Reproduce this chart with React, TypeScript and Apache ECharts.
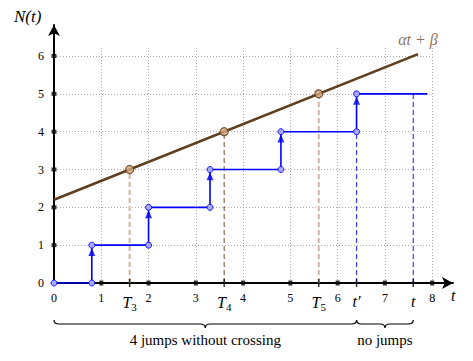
import React, { useEffect, useRef } from "react";
import * as echarts from "echarts";

const xTicks = [0, 1, 2, 3, 4, 5, 6, 7, 8];
const yTicks = [0, 1, 2, 3, 4, 5, 6];
const gridXMax = 8;
const gridYMax = 6.25;
const jumpTimes = [0.8, 2.0, 3.3, 4.8, 6.4];
const stepEnd = 7.9;
const alpha = 0.5;
const beta = 2.2;
const lineEnd = 7.7;
const crossingTimes = [1.6, 3.6, 5.6];
const crossingLevels = [3, 4, 5];
const crossingNames = ["3", "4", "5"];
const tPrime = 6.4;
const tNow = 7.6;
const braceSpans = [
  [0, tPrime],
  [tPrime, tNow],
];
const braceLabels = ["4 jumps without crossing", "no jumps"];

const SERIF = "Liberation Serif, DejaVu Serif, serif";

export default function App() {
  const ref = useRef<HTMLDivElement>(null);
  useEffect(() => {
    if (!ref.current) return;
    const chart = echarts.init(ref.current, null, { renderer: "svg" });

    const stepPts: any[] = [[0, 0]];
    let level = 0;
    jumpTimes.forEach((jt) => {
      stepPts.push([jt, level]);
      level += 1;
      stepPts.push([jt, level]);
    });
    stepPts.push({ value: [stepEnd, level], symbol: "none" });

    const arrowPts = jumpTimes.map((jt, i) => [jt, i + 0.82]);

    const gridLines: any[] = [];
    xTicks.filter((v) => v > 0).forEach((v) => gridLines.push({ coords: [[v, 0], [v, gridYMax]] }));
    yTicks.filter((v) => v > 0).forEach((v) => gridLines.push({ coords: [[0, v], [gridXMax, v]] }));

    const dashed = (x: number, top: number, color: string, width: number) => ({
      type: "line",
      data: [[x, 0], [x, top]],
      symbol: "none",
      lineStyle: { color, width, type: [5, 3] },
      z: 3,
    });

    const tLabelMap: Record<string, string> = {};
    crossingTimes.forEach((t, i) => (tLabelMap[t.toFixed(2)] = `{i|T}{s|${crossingNames[i]}}`));
    tLabelMap[tPrime.toFixed(2)] = "{i|t′}";
    tLabelMap[tNow.toFixed(2)] = "{i|t}";
    const tLabelValues = [...crossingTimes, tPrime, tNow];

    const xMax = 8.44;
    const yMax = 6.82;

    chart.setOption({
      animation: false,
      textStyle: { fontFamily: SERIF },
      grid: { left: 54, right: 473 - 453, top: 25, bottom: 361 - 283, containLabel: false },
      xAxis: [
        {
          type: "value",
          min: 0,
          max: xMax,
          axisLine: {
            show: true,
            lineStyle: { color: "#000", width: 2 },
            symbol: ["none", "arrow"],
            symbolSize: [9, 11],
          },
          axisTick: { show: false },
          splitLine: { show: false },
          axisLabel: {
            customValues: xTicks,
            color: "#000",
            fontFamily: SERIF,
            fontSize: 12,
            margin: 9,
          },
          name: "t",
          nameLocation: "end",
          nameGap: -2,
          nameTextStyle: {
            fontFamily: SERIF,
            fontStyle: "italic",
            fontSize: 16,
            color: "#000",
            align: "left",
            verticalAlign: "top",
            padding: [4, 0, 0, 0],
          },
        },
        {
          type: "value",
          min: 0,
          max: xMax,
          position: "bottom",
          axisLine: { show: false },
          axisTick: { show: false },
          splitLine: { show: false },
          axisLabel: {
            customValues: tLabelValues,
            margin: 10,
            formatter: (v: number) => tLabelMap[v.toFixed(2)] || "",
            rich: {
              i: { fontFamily: SERIF, fontStyle: "italic", fontSize: 16, color: "#000" },
              s: { fontFamily: SERIF, fontSize: 11, color: "#000", padding: [8, 0, 0, 0] },
            },
          },
        },
      ],
      yAxis: {
        type: "value",
        min: 0,
        max: yMax,
        axisLine: {
          show: true,
          lineStyle: { color: "#000", width: 2 },
          symbol: ["none", "arrow"],
          symbolSize: [9, 11],
        },
        axisTick: { show: false },
        splitLine: { show: false },
        axisLabel: {
          customValues: yTicks,
          color: "#000",
          fontFamily: SERIF,
          fontSize: 12,
          margin: 10,
        },
      },
      graphic: [
        {
          type: "text",
          left: 14,
          top: 8,
          style: {
            text: "N(t)",
            fontFamily: SERIF,
            fontStyle: "italic",
            fontSize: 17,
            fill: "#000",
          },
        },
      ],
      series: [
        {
          type: "lines",
          coordinateSystem: "cartesian2d",
          data: gridLines,
          lineStyle: { color: "#aaaaaa", width: 1, type: [1, 2], opacity: 1 },
          z: 1,
          silent: true,
        },
        dashed(crossingTimes[0], crossingLevels[0], "#cbb9a5", 2),
        dashed(crossingTimes[1], crossingLevels[1], "#8a6a4a", 1.2),
        dashed(crossingTimes[2], crossingLevels[2], "#cbb9a5", 2),
        dashed(tPrime, 4, "#3a3aff", 1.2),
        dashed(tNow, 5, "#3a3aff", 1.2),
        {
          type: "line",
          data: [[0, beta], [lineEnd, beta + alpha * lineEnd]],
          symbol: "none",
          lineStyle: { color: "#5f3e1e", width: 2.6 },
          z: 4,
        },
        {
          type: "scatter",
          data: [[lineEnd, beta + alpha * lineEnd]],
          symbolSize: 0.1,
          itemStyle: { color: "rgba(0,0,0,0)" },
          label: {
            show: true,
            position: "top",
            distance: 7,
            formatter: "αt + β",
            fontFamily: SERIF,
            fontStyle: "italic",
            fontSize: 16,
            color: "#6b4a2b",
          },
          z: 4,
        },
        {
          type: "line",
          data: stepPts,
          symbol: "circle",
          symbolSize: 6,
          showAllSymbol: true,
          itemStyle: { color: "#a8a8ff", borderColor: "#1a1aff", borderWidth: 1 },
          lineStyle: { color: "#0000ff", width: 1.6 },
          z: 6,
        },
        {
          type: "scatter",
          data: arrowPts,
          symbol: "triangle",
          symbolSize: [7, 8],
          itemStyle: { color: "#0000ff" },
          z: 7,
        },
        {
          type: "scatter",
          data: crossingTimes.map((t, i) => [t, crossingLevels[i]]),
          symbol: "circle",
          symbolSize: 8,
          itemStyle: { color: "#d6a97c", borderColor: "#5a3a1a", borderWidth: 1.2 },
          z: 8,
        },
        {
          type: "scatter",
          data: xTicks.filter((v) => v > 0).map((v) => [v, 0]),
          symbol: "rect",
          symbolSize: [4, 5],
          itemStyle: { color: "#000" },
          z: 5,
        },
        {
          type: "scatter",
          data: yTicks.filter((v) => v > 0).map((v) => [0, v]),
          symbol: "rect",
          symbolSize: [5, 4],
          itemStyle: { color: "#000" },
          z: 5,
        },
        {
          type: "scatter",
          data: tLabelValues.map((v) => [v, 0]),
          symbol: "rect",
          symbolSize: [1.5, 8],
          itemStyle: { color: "#000" },
          z: 5,
        },
        {
          type: "custom",
          data: braceSpans,
          clip: false,
          renderItem: (params: any, api: any) => {
            const x0 = api.coord([api.value(0), 0])[0];
            const x1 = api.coord([api.value(1), 0])[0];
            const yAxisPx = api.coord([0, 0])[1];
            const top = yAxisPx + 37;
            const h = 8;
            const r = 5;
            const xm = (x0 + x1) / 2;
            const ym = top + h / 2;
            const d =
              `M ${x0} ${top} Q ${x0} ${ym} ${x0 + r} ${ym} L ${xm - r} ${ym} ` +
              `Q ${xm} ${ym} ${xm} ${top + h} Q ${xm} ${ym} ${xm + r} ${ym} ` +
              `L ${x1 - r} ${ym} Q ${x1} ${ym} ${x1} ${top}`;
            return {
              type: "group",
              children: [
                {
                  type: "path",
                  shape: { pathData: d },
                  style: { fill: "none", stroke: "#000", lineWidth: 1.2 },
                },
                {
                  type: "text",
                  x: xm,
                  y: top + 20,
                  style: {
                    text: braceLabels[params.dataIndex],
                    fill: "#000",
                    fontFamily: SERIF,
                    fontSize: 15,
                    align: "center",
                    verticalAlign: "middle",
                  },
                },
              ],
            };
          },
          z: 5,
        },
      ],
    });
    return () => chart.dispose();
  }, []);
  return (
    <div
      ref={ref}
      style={{ position: "absolute", left: 0, top: 0, width: 473, height: 361, background: "#fff" }}
    />
  );
}
